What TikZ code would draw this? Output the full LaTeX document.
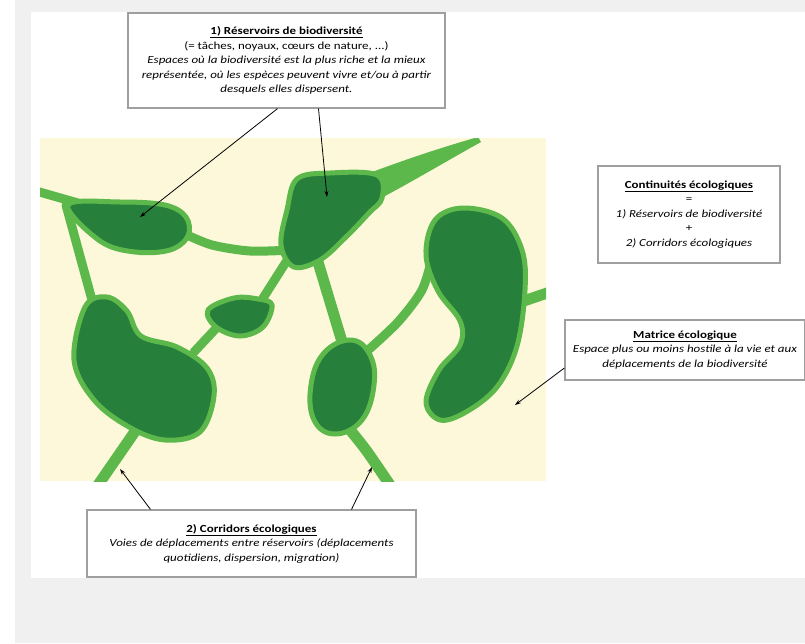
\documentclass[tikz,border=0pt]{standalone}
\usepackage{fontspec}
\setmainfont{Carlito}[FakeStretch=1.2]
\usetikzlibrary{arrows.meta,positioning}

\definecolor{fond}{HTML}{F0F0F0}
\definecolor{matrice}{HTML}{FDF8DA}
\definecolor{clair}{HTML}{5DB84B}
\definecolor{fonce}{HTML}{26803B}

\begin{document}
\begin{tikzpicture}[x=1pt,y=-1pt,
    corridor/.style={draw=clair, line width=10pt, line cap=round},
    reservoir/.style={fill=fonce, draw=clair, line width=5pt, line join=round},
    legende/.style={draw=gray!75, line width=1.2pt, fill=white, align=center,
      font=\fontsize{10.8}{14.5}\selectfont, inner sep=3pt},
    fleche/.style={-{Stealth[length=6pt,width=4pt]}, line width=0.8pt}]
    \useasboundingbox (0,0) rectangle (805,643);
    \fill[fond] (15,0) rectangle (805,643);
    \fill[white] (31,12) rectangle (805,578);

    % matrice et reseau
    \fill[matrice] (40,138) rectangle (546,481);
    \begin{scope}
      \clip (40,138) rectangle (546,481);
      \draw[corridor, line width=9pt] (36,191) -- (78,203);
      \draw[corridor, line width=9pt] (66,205) -- (92,300);
      \draw[corridor, line width=9pt] plot[smooth] coordinates {(185,234) (212,245) (250,251) (292,250)};
      \fill[clair] (372,172) .. controls (410,158) and (440,148) .. (478,137)
        -- (481,142) .. controls (445,162) and (415,180) .. (385,196) -- cycle;
      \draw[corridor, line width=9pt] (286,262) -- (258,306);
      \draw[corridor, line width=9pt] (222,322) -- (194,352);
      \draw[corridor, line width=11pt] (136,430) -- (98,485);
      \draw[corridor, line width=11pt] (318,262) -- (343,345);
      \draw[corridor, line width=9pt] plot[smooth] coordinates {(366,352) (398,322) (422,290) (432,258)};
      \draw[corridor, line width=11pt] plot[smooth] coordinates {(346,425) (366,450) (390,485)};
      \draw[corridor, line width=11pt] (515,304) -- (550,292);

      \filldraw[reservoir] plot[smooth cycle, tension=0.6] coordinates
        {(68,205) (120,202) (165,205) (186,217) (188,236) (170,250) (135,252) (100,241)};
      \filldraw[reservoir] plot[smooth cycle, tension=0.6] coordinates
        {(297,179) (330,173) (377,175) (382,198) (369,213) (346,237) (320,260) (294,267) (281,245) (287,210)};
      \filldraw[reservoir] plot[smooth cycle, tension=0.6] coordinates
        {(208,310) (234,298) (258,299) (272,305) (263,327) (240,336) (216,327)};
      \filldraw[reservoir] plot[smooth cycle, tension=0.6] coordinates
        {(85,307) (107,297) (127,311) (141,336) (177,347) (207,368) (214,396) (200,432) (165,440) (129,427) (94,400) (74,360)};
      \filldraw[reservoir] plot[smooth cycle, tension=0.7] coordinates
        {(351,340) (370,355) (374,385) (362,420) (335,434) (314,420) (311,385) (324,353)};
      \filldraw[reservoir] plot[smooth cycle, tension=0.6] coordinates
        {(463,208) (502,218) (522,250) (525,290) (517,346) (497,387) (466,412) (440,420) (426,402) (439,370) (460,345) (460,321) (438,291) (426,255) (435,220)};
    \end{scope}

    % legendes
    \node[legende, minimum width=317pt, minimum height=95pt] (reservoirs) at (286.5,60.5)
      {\underline{\textbf{1) Réservoirs de biodiversité}}\\
       (= tâches, noyaux, cœurs de nature, ...)\\
       \textit{Espaces où la biodiversité est la plus riche et la mieux}\\
       \textit{représentée, où les espèces peuvent vivre et/ou à partir}\\
       \textit{desquels elles dispersent.}};
    \node[legende, minimum width=182pt, minimum height=97pt] (continuites) at (689,214.5)
      {\underline{\textbf{Continuités écologiques}}\\
       =\\
       \textit{1) Réservoirs de biodiversité}\\
       +\\
       \textit{2) Corridors écologiques}};
    \node[legende, minimum width=240pt, minimum height=60pt] (matrix) at (685,350)
      {\underline{\textbf{Matrice écologique}}\\
       \textit{Espace plus ou moins hostile à la vie et aux}\\
       \textit{déplacements de la biodiversité}};
    \node[legende, minimum width=329pt, minimum height=67pt] (corridors) at (251.5,543.5)
      {\underline{\textbf{2) Corridors écologiques}}\\
       \textit{Voies de déplacements entre réservoirs (déplacements}\\
       \textit{quotidiens, dispersion, migration)}};

    % fleches
    \coordinate (resA) at (140,217);
    \coordinate (resB) at (327,197);
    \coordinate (fondmatrice) at (515,405);
    \coordinate (corA) at (120,469);
    \coordinate (corB) at (372,467);
    \draw[fleche] ([xshift=-9pt]reservoirs.south) -- (resA);
    \draw[fleche] ([xshift=32pt]reservoirs.south) -- (resB);
    \draw[fleche] ([yshift=-18pt]matrix.west) -- (fondmatrice);
    \draw[fleche] ([xshift=-101pt]corridors.north) -- (corA);
    \draw[fleche] ([xshift=100pt]corridors.north) -- (corB);
\end{tikzpicture}
\end{document}
